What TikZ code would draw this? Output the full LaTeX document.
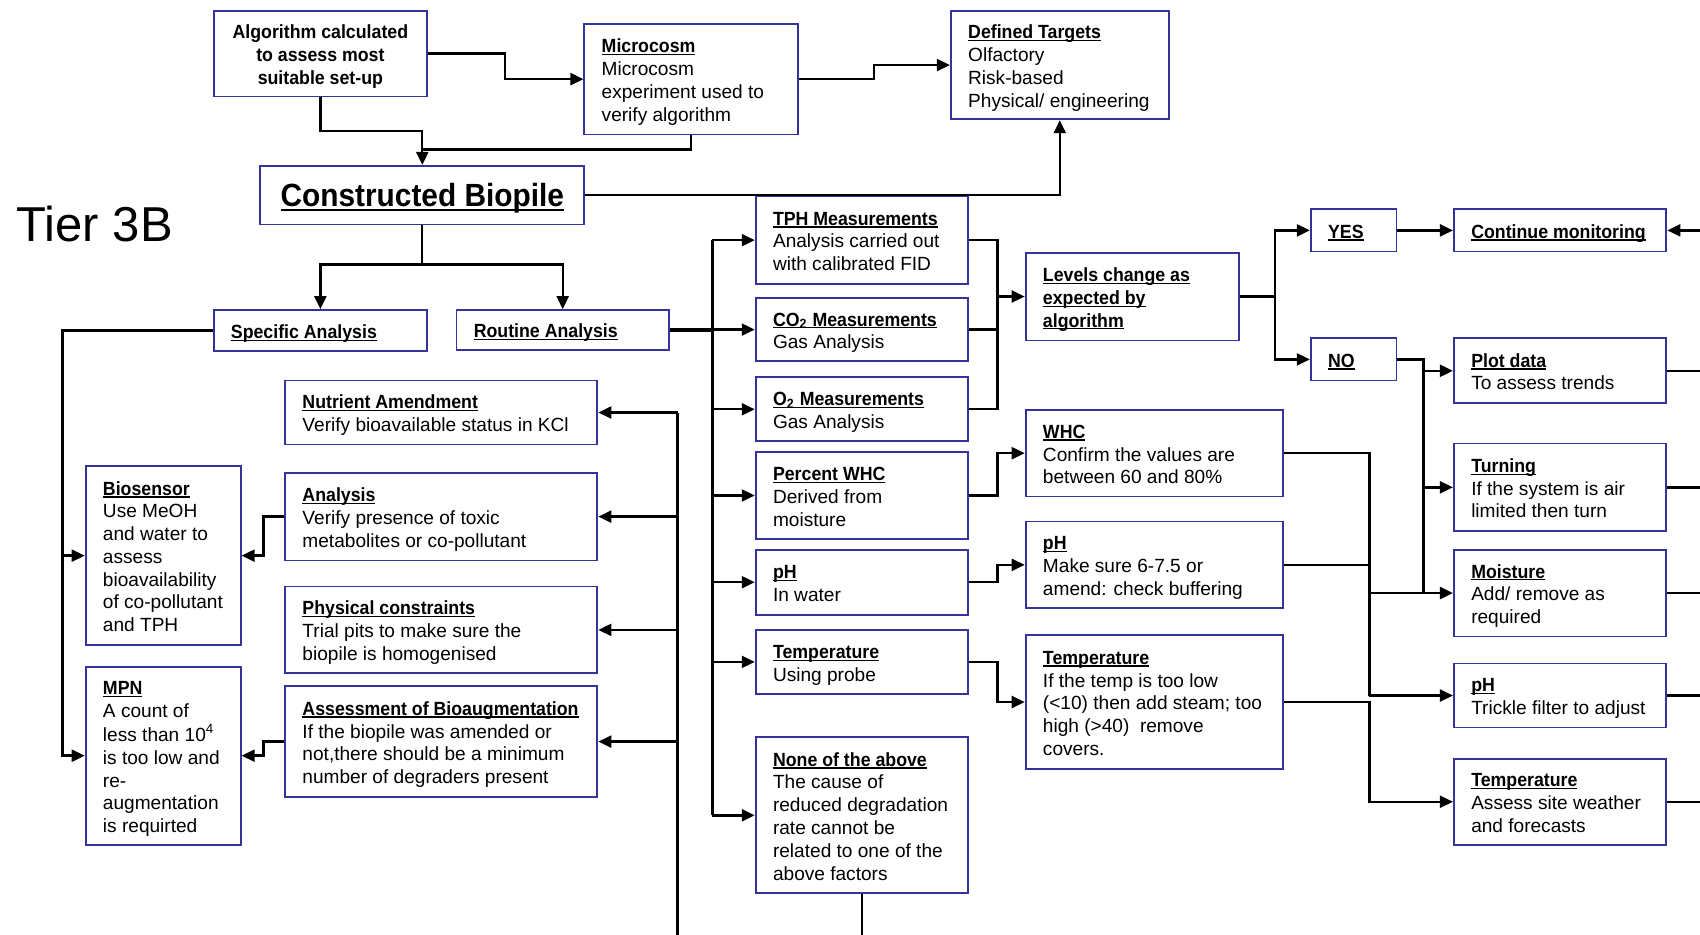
\documentclass[tikz,border=0pt]{standalone}
\usepackage{fontspec}
\setmainfont{Liberation Sans}[BoldFeatures={FakeStretch=0.93}]
\usetikzlibrary{arrows.meta}
\definecolor{boxblue}{RGB}{51,51,153}
\newcommand\myul[1]{\setbox0\hbox{#1}\rlap{\rule[-1.1pt]{\wd0}{0.55pt}}\box0}
\newcommand\myulB[1]{\setbox0\hbox{#1}\rlap{\rule[-1.9pt]{\wd0}{0.8pt}}\box0}
\newcommand\hd[1]{\myul{\textbf{#1}}}
\newcommand\lowr[1]{\raisebox{0pt}[\dimexpr\height+3pt\relax][\depth]{#1}}
\newcommand\bx[7][]{%
  \pgfmathsetmacro\BXw{(#5-#3)*0.5}%
  \pgfmathsetmacro\BXh{(#6-#4)*0.5}%
  \pgfmathsetmacro\BXt{\BXw-16}%
  \node[box,minimum width=\BXw pt,minimum height=\BXh pt,#1] (#2) at ({(#3+#5)/2},{(#4+#6)/2})
    {\lowr{\makebox[\BXt pt][l]{\begin{tabular}{@{}l@{}}#7\end{tabular}}}};}
\begin{document}
\begin{tikzpicture}[x=0.5pt,y=-0.5pt,
  box/.style={draw=boxblue,line width=0.85pt,fill=white,inner xsep=8pt,inner ysep=1pt,
    font=\fontsize{8.8}{10.5}\selectfont},
  ln/.style={line width=1.1pt},
  thk/.style={line width=1.7pt},
  arr/.style={line width=1.1pt,-{Triangle[length=6pt,width=5.5pt]}}]
\fill[white] (0,0) rectangle (1568,862);
\useasboundingbox (0,0) rectangle (1568,862);

% title
\node[anchor=west,inner sep=0pt,font=\fontsize{22.6}{27}\selectfont] (tier) at (15,207) {Tier 3B};

% top
\node[box,minimum width=98.5pt,minimum height=39.5pt,
  font={\fontsize{8.8}{10.5}\selectfont\bfseries}] (alg) at (295.5,49.5)
  {\lowr{\begin{tabular}{@{}c@{}}Algorithm calculated\\to assess most\\suitable set-up\end{tabular}}};
\bx{micro}{539}{22}{736}{124}{\hd{Microcosm}\\Microcosm\\experiment used to\\verify algorithm}
\bx{dt}{877}{10}{1078}{110}{\hd{Defined Targets}\\Olfactory\\Risk-based\\Physical/ engineering}
\node[box,inner xsep=3pt,minimum width=149.5pt,minimum height=27pt,font=\fontsize{14.8}{18}\selectfont] (cb) at (389.5,180)
  {\lowr{\myulB{\textbf{Constructed Biopile}}}};
\bx{spec}{197}{286}{394}{324}{\hd{Specific Analysis}}
\bx{rout}{421}{286}{617}{323}{\hd{Routine Analysis}}

% measurements
\bx{tph}{697}{181}{893}{262}{\hd{TPH Measurements}\\Analysis carried out\\with calibrated FID}
\bx{co2}{697}{275}{893}{333}{\hd{CO\textsubscript{2} Measurements}\\Gas Analysis}
\bx{o2}{697}{348}{893}{407}{\hd{O\textsubscript{2} Measurements}\\Gas Analysis}
\bx{pwhc}{697}{417}{893}{497}{\hd{Percent WHC}\\Derived from\\moisture}
\bx{pha}{697}{507}{893}{567}{\hd{pH}\\In water}
\bx{tpa}{697}{581}{893}{640}{\hd{Temperature}\\Using probe}
\bx{none}{697}{680}{893}{824}{\hd{None of the above}\\The cause of\\reduced degradation\\rate cannot be\\related to one of the\\above factors}

% second column
\bx{lev}{946}{233}{1143}{314}{\hd{Levels change as}\\\hd{expected by}\\\hd{algorithm}}
\bx{whc}{946}{378}{1183}{458}{\hd{WHC}\\Confirm the values are\\between 60 and 80\%}
\bx{phb}{946}{481}{1183}{561}{\hd{pH}\\Make sure 6-7.5 or\\amend: check buffering}
\bx{tpb}{946}{586}{1183}{709}{\hd{Temperature}\\If the temp is too low\\(<10) then add steam; too\\high (>40)\ \ remove\\covers.}

% decision
\bx{yes}{1209}{193}{1288}{232}{\hd{YES}}
\bx{no}{1209}{312}{1288}{351}{\hd{NO}}
\bx{cm}{1341}{193}{1537}{232}{\hd{Continue monitoring}}
\bx{plot}{1341}{312}{1537}{372}{\hd{Plot data}\\To assess trends}
\bx{turn}{1341}{409}{1537}{490}{\hd{Turning}\\If the system is air\\limited then turn}
\bx{moist}{1341}{507}{1537}{587}{\hd{Moisture}\\Add/ remove as\\required}
\bx{phc}{1341}{612}{1537}{671}{\hd{pH}\\Trickle filter to adjust}
\bx{tpc}{1341}{700}{1537}{779}{\hd{Temperature}\\Assess site weather\\and forecasts}

% specific analysis side
\bx{nutr}{263}{351}{551}{410}{\hd{Nutrient Amendment}\\Verify bioavailable status in KCl}
\bx{ana}{263}{436}{551}{517}{\hd{Analysis}\\Verify presence of toxic\\metabolites or co-pollutant}
\bx{phys}{263}{541}{551}{621}{\hd{Physical constraints}\\Trial pits to make sure the\\biopile is homogenised}
\bx{assess}{263}{633}{551}{735}{\hd{Assessment of Bioaugmentation}\\If the biopile was amended or\\not,there should be a minimum\\number of degraders present}
\bx{bio}{79}{430}{222}{595}{\hd{Biosensor}\\Use MeOH\\and water to\\assess\\bioavailability\\of co-pollutant\\and TPH}
\bx{mpn}{79}{615}{222}{779}{\hd{MPN}\\A count of\\less than 10\textsuperscript{4}\\is too low and\\re-\\augmentation\\is requirted}

% coordinates
\coordinate (j1) at (389.5,138);
\coordinate (j2) at (389.5,244);
\coordinate (j3) at (57.5,512.5);
\coordinate (v1) at (657,0);
\coordinate (v2) at (625,0);
\coordinate (v3) at (920,0);
\coordinate (v4) at (1176,0);
\coordinate (v5) at (1313,0);
\coordinate (v6) at (1263,0);
\coordinate (rE) at (1568,0);
\coordinate (botA) at (625,862);
\coordinate (botB) at (795,862);

% top connectors
\draw[arr] (alg.east) -| (466,73) -- (micro.west);
\draw[ln] (alg.south) |- (389.5,121) -- (j1);
\draw[arr] (micro.south) |- (j1) -- (cb.north);
\draw[arr] (micro.east) -| (806,60) -- (dt.west);
\draw[arr] (cb.east) -| (dt.south);
\draw[ln] (cb.south) -- (j2);
\draw[arr] (j2) -| (spec.north);
\draw[arr] (j2) -| (rout.north);

% specific analysis
\draw[arr] (spec.west) -| (57.5,697) -- (mpn.west);
\draw[arr] (j3) -- (bio.west);
\draw[arr] (ana.west) -| (243,512.5) -- (bio.east);
\draw[arr] (assess.west) -| (243,697) -- (mpn.east);
\draw[ln] (nutr.east -| v2) -- (botA);
\foreach \n in {nutr,ana,phys,assess} \draw[arr] (\n.east -| v2) -- (\n.east);

% routine analysis
\draw[thk] (rout.east) -- (rout.east -| v1);
\draw[ln] (tph.west -| v1) -- (none.west -| v1);
\foreach \n in {tph,co2,o2,pwhc,pha,tpa,none} \draw[arr] (\n.west -| v1) -- (\n.west);
\draw[ln] (none.south) -- (botB);

% to levels
\draw[ln] (tph.east) -| (o2.east -| v3) -- (o2.east);
\draw[ln] (co2.east) -- (co2.east -| v3);
\draw[arr] (lev.west -| v3) -- (lev.west);
\draw[arr] (lev.east) -- (lev.east -| v4) |- (yes.west);
\draw[arr] (lev.east -| v4) |- (no.west);
\draw[arr] (yes.east) -- (cm.west);
\draw[arr] (cm.east -| rE) -- (cm.east);
\draw[ln] (no.east) -| (moist.west -| v5);
\foreach \n in {plot,turn,moist} \draw[arr] (\n.west -| v5) -- (\n.west);

% second level
\draw[arr] (pwhc.east) -- (pwhc.east -| v3) |- (whc.west);
\draw[arr] (pha.east) -- (pha.east -| v3) |- (phb.west);
\draw[arr] (tpa.east) -- (tpa.east -| v3) |- (tpb.west);
\draw[ln] (whc.east) -| (phc.west -| v6);
\draw[ln] (phb.east) -- (phb.east -| v6);
\draw[ln] (moist.west -| v6) -- (moist.west -| v5);
\draw[arr] (phc.west -| v6) -- (phc.west);
\draw[arr] (tpb.east) -| (tpc.west -| v6) -- (tpc.west);

% outputs to right edge
\foreach \n in {plot,turn,moist,phc,tpc} \draw[ln] (\n.east) -- (\n.east -| rE);
\end{tikzpicture}
\end{document}
